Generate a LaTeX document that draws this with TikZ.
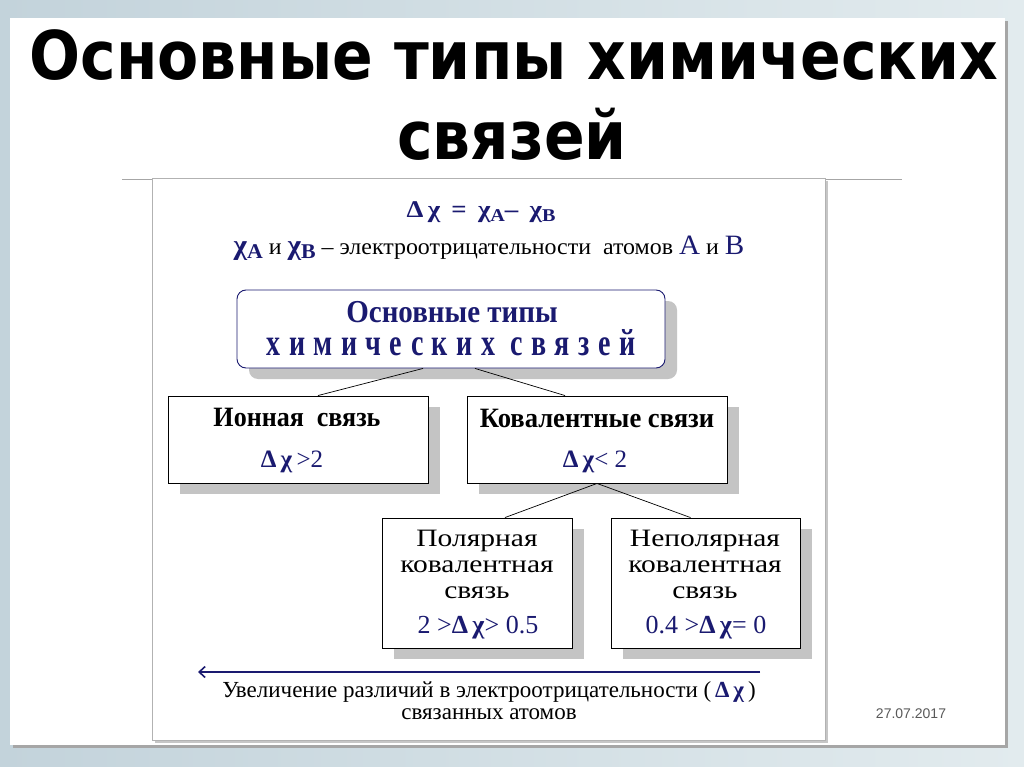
\documentclass[tikz,border=0pt]{standalone}
\usepackage{fontspec}
\setmainfont{Liberation Serif}
\newfontfamily\titlefont{DejaVu Sans}
\newfontfamily\datefont{Liberation Sans}
\usetikzlibrary{shadows,arrows.meta}
\definecolor{navy}{HTML}{1A1A70}
\definecolor{bgL}{HTML}{C3D3DB}
\definecolor{bgR}{HTML}{E2EBEE}
\definecolor{shade}{HTML}{C4C4C4}
\newcommand\lowsub[1]{\raisebox{-0.35ex}{\scalebox{0.75}{#1}}}
\newcommand\dchi{\textcolor{navy}{\textbf{Δ\,χ}}}
\newcommand\xs[2]{\scalebox{#1}[1]{#2}}
\tikzset{
  box/.style={draw=black, line width=0.9pt, fill=white, inner sep=0pt,
    general shadow={fill=shade, shadow xshift=12pt, shadow yshift=-11pt}},
  topbox/.style={box, draw=navy, rounded corners=9pt},
  conn/.style={draw=black, line width=0.7pt},
  lbl/.style={inner sep=0pt, anchor=center, align=center},
}
\begin{document}
\begin{tikzpicture}[x=1pt,y=-1pt]
\useasboundingbox (0,0) rectangle (1024,767);
\shade[left color=bgL, right color=bgR] (0,0) rectangle (1024,767);
\fill[gray!70] (13,21) rectangle (1008,748);
\fill[white] (10,18) rectangle (1005,745);
% title
\node[lbl, font=\titlefont\bfseries\fontsize{60}{60}\selectfont] (t1) at (514,55) {\scalebox{1}[1.12]{Основные типы химических}};
\node[lbl, font=\titlefont\bfseries\fontsize{60}{60}\selectfont] (t2) at (512,134) {\scalebox{1}[1.12]{связей}};
\draw[gray!70, line width=1pt] (122,180) -- (902,180);
% inner panel
\fill[gray!45] (155,181) rectangle (828,743);
\filldraw[fill=white, draw=gray!60, line width=0.8pt] (152,178) rectangle (825,740);
% formulas
\node[lbl, text=navy, font=\bfseries\fontsize{24}{24}\selectfont] (f1) at (481,212) {\xs{1.12}{Δ\,χ \,=\, χ\lowsub{A}– \,χ\lowsub{B}}};
\node[lbl, font=\fontsize{23}{23}\selectfont] (f2) at (489,248) {\xs{1.04}{\textcolor{navy}{\bfseries\fontsize{28}{28}\selectfont χ\lowsub{A}} и \textcolor{navy}{\bfseries\fontsize{28}{28}\selectfont χ\lowsub{B}} – электроотрицательности \ атомов \textcolor{navy}{\fontsize{28}{28}\selectfont A} и \textcolor{navy}{\fontsize{28}{28}\selectfont B}}};
% boxes
\node[topbox, minimum width=428pt, minimum height=78pt] (top) at (451,329) {};
\node[box, minimum width=260pt, minimum height=87pt] (ion) at (298,439.5) {};
\node[box, minimum width=260pt, minimum height=87pt] (cov) at (597,439.5) {};
\node[box, minimum width=190pt, minimum height=130pt] (pol) at (477,583) {};
\node[box, minimum width=189pt, minimum height=130pt] (npol) at (705.5,583) {};
% connectors
\draw[conn] ([xshift=-28pt]top.south) -- ([xshift=20pt]ion.north);
\draw[conn] ([xshift=24pt]top.south) -- ([xshift=-32pt]cov.north);
\draw[conn] (cov.south) -- ([xshift=28pt]pol.north);
\draw[conn] (cov.south) -- ([xshift=-15pt]npol.north);
% texts in boxes
\node[lbl, text=navy, font=\bfseries\fontsize{29}{29}\selectfont] (top1) at (452,312) {\scalebox{1}[1.1]{Основные типы}};
\node[lbl, text=navy, font=\bfseries\fontsize{28}{28}\selectfont\addfontfeature{LetterSpace=30}] (top2) at (451,343) {\scalebox{1}[1.35]{химических\hspace{16pt}связей}};
\node[lbl, font=\bfseries\fontsize{28}{28}\selectfont] (ion1) at (297,417) {\xs{0.93}{Ионная \ связь}};
\node[lbl, font=\fontsize{25}{25}\selectfont] (ion2) at (292,462) {\dchi\,\textcolor{navy}{>2}};
\node[lbl, font=\bfseries\fontsize{28}{28}\selectfont] (cov1) at (597,418) {\xs{0.95}{Ковалентные связи}};
\node[lbl, font=\fontsize{25}{25}\selectfont] (cov2) at (595,462) {\dchi\textcolor{navy}{< 2}};
\node[lbl, font=\fontsize{25}{25}\selectfont] (pol1) at (477,567) {\xs{1.18}{\begin{tabular}{@{}c@{}}Полярная\\[1pt]ковалентная\\[1pt]связь\end{tabular}}};
\node[lbl, font=\fontsize{26}{26}\selectfont] (pol2) at (478,628) {\textcolor{navy}{2 >}\dchi\textcolor{navy}{ > 0.5}};
\node[lbl, font=\fontsize{25}{25}\selectfont] (npol1) at (705,567) {\xs{1.18}{\begin{tabular}{@{}c@{}}Неполярная\\[1pt]ковалентная\\[1pt]связь\end{tabular}}};
\node[lbl, font=\fontsize{26}{26}\selectfont] (npol2) at (706,628) {\textcolor{navy}{0.4 >}\dchi\textcolor{navy}{ = 0}};
% arrow
\coordinate (aR) at (760,672);
\coordinate (aL) at (198,672);
\draw[navy, line width=1.6pt, -{Straight Barb[length=6pt,width=11pt]}] (aR) -- (aL);
\node[lbl, font=\fontsize{23}{22}\selectfont] (cap) at (489,701) {Увеличение различий в электроотрицательности (\,\dchi\,)\\связанных атомов};
% date
\node[lbl, text=black!65, font=\datefont\fontsize{14}{14}\selectfont] (date) at (911,714) {27.07.2017};
\end{tikzpicture}
\end{document}
